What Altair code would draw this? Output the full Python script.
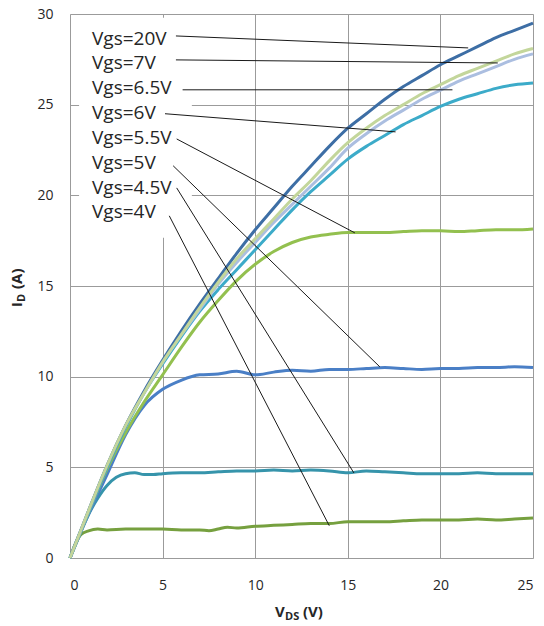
import altair as alt
import pandas as pd

# Drain voltage grid (V) shared by the smooth output curves
vds = [0, 1, 2, 3, 4, 5, 6, 7, 8, 9, 10, 11, 12, 13, 14, 15, 16, 17, 18, 19, 20, 21, 22, 23, 24, 25]

# Drain current (A) for each gate voltage
id_20v = [0, 2.6, 5.1, 7.3, 9.2, 10.9, 12.5, 14.0, 15.4, 16.8, 18.1, 19.3, 20.5, 21.6, 22.7, 23.7,
          24.5, 25.3, 26.0, 26.6, 27.2, 27.7, 28.2, 28.7, 29.1, 29.5]
id_7v = [0, 2.6, 5.1, 7.3, 9.1, 10.8, 12.3, 13.8, 15.2, 16.5, 17.6, 18.7, 19.8, 20.8, 21.9, 22.9,
         23.7, 24.4, 25.0, 25.6, 26.1, 26.6, 27.0, 27.4, 27.8, 28.1]
id_6v5 = [0, 2.6, 5.1, 7.3, 9.1, 10.8, 12.3, 13.7, 15.1, 16.3, 17.4, 18.5, 19.5, 20.5, 21.5, 22.6,
          23.4, 24.1, 24.7, 25.3, 25.8, 26.3, 26.7, 27.1, 27.5, 27.8]
id_6v = [0, 2.5, 5.0, 7.2, 9.1, 10.7, 12.2, 13.6, 14.8, 15.9, 17.0, 18.1, 19.2, 20.2, 21.1, 22.0,
         22.7, 23.3, 23.9, 24.4, 24.9, 25.3, 25.6, 25.9, 26.1, 26.2]
id_5v5 = [0, 2.5, 4.9, 6.9, 8.6, 10.1, 11.6, 13.0, 14.2, 15.3, 16.2, 16.9, 17.4, 17.7, 17.85, 17.95,
          17.95, 17.95, 18.0, 18.05, 18.05, 18.0, 18.05, 18.1, 18.1, 18.15]
id_5v = [0, 2.4, 4.6, 6.8, 8.4, 9.3, 9.8, 10.1, 10.15, 10.3, 10.1, 10.25, 10.35, 10.3, 10.4, 10.4,
         10.45, 10.5, 10.45, 10.4, 10.45, 10.45, 10.5, 10.5, 10.55, 10.5]

# The low-gate curves saturate early, so they use a finer start
vds_4v5 = [0, 0.5, 1, 1.5, 2, 2.5, 3, 3.5, 4, 4.5, 5, 6, 7, 8, 9, 10, 11, 12, 13, 14, 15, 16, 17,
           18, 19, 20, 21, 22, 23, 24, 25]
id_4v5 = [0, 1.3, 2.4, 3.3, 4.0, 4.45, 4.65, 4.7, 4.6, 4.6, 4.65, 4.7, 4.7, 4.75, 4.8, 4.8, 4.85,
          4.8, 4.85, 4.8, 4.7, 4.8, 4.75, 4.7, 4.65, 4.65, 4.65, 4.7, 4.65, 4.65, 4.65]
vds_4v = [0, 0.3, 0.6, 1, 1.5, 2, 3, 4, 5, 6, 7, 7.5, 8, 8.5, 9, 10, 11, 12, 13, 14, 15, 16, 17,
          18, 19, 20, 21, 22, 23, 24, 25]
id_4v = [0, 0.8, 1.3, 1.5, 1.6, 1.55, 1.6, 1.6, 1.6, 1.55, 1.55, 1.5, 1.6, 1.7, 1.65, 1.75, 1.8,
         1.85, 1.9, 1.9, 2.0, 2.0, 2.0, 2.05, 2.1, 2.1, 2.1, 2.15, 2.1, 2.15, 2.2]

# Series names, in drawing order, and their colours
series = ["Vgs=4V", "Vgs=4.5V", "Vgs=5V", "Vgs=5.5V", "Vgs=6V", "Vgs=6.5V", "Vgs=20V", "Vgs=7V"]
colors = ["#76a03f", "#3694ab", "#4a7fc6", "#93c04f", "#3cabc9", "#abbee0", "#3d6ea5", "#c3d69b"]
curves = {
    "Vgs=4V": (vds_4v, id_4v),
    "Vgs=4.5V": (vds_4v5, id_4v5),
    "Vgs=5V": (vds, id_5v),
    "Vgs=5.5V": (vds, id_5v5),
    "Vgs=6V": (vds, id_6v),
    "Vgs=6.5V": (vds, id_6v5),
    "Vgs=20V": (vds, id_20v),
    "Vgs=7V": (vds, id_7v),
}

# Callout labels (top to bottom) with leader line start and end points
label_names = ["Vgs=20V", "Vgs=7V", "Vgs=6.5V", "Vgs=6V", "Vgs=5.5V", "Vgs=5V", "Vgs=4.5V", "Vgs=4V"]
label_x = [1.19] * 8
label_y = [28.63, 27.31, 25.93, 24.55, 23.17, 21.79, 20.41, 19.09]
lead_x0 = [5.72, 5.72, 6.08, 5.13, 5.76, 5.57, 5.76, 5.36]
lead_y0 = [28.79, 27.47, 25.82, 24.50, 23.11, 21.63, 20.41, 18.87]
lead_x1 = [21.5, 23.1, 20.65, 17.58, 15.38, 16.73, 15.33, 14.0]
lead_y1 = [28.13, 27.30, 25.82, 23.50, 17.93, 10.54, 4.69, 1.78]

FONT = "Open Sans"
TXT = "#262626"
GRID = "#9b9b9b"

xs = alt.Scale(domain=[0, 25], nice=False)
ys = alt.Scale(domain=[0, 30], nice=False)
x_axis = alt.Axis(values=[0, 5, 10, 15, 20, 25], title=None, grid=True, ticks=False, domain=False,
                  labelPadding=20, labelFontSize=14, labelFont=FONT, labelColor=TXT,
                  gridColor=GRID, gridWidth=1, gridOpacity=1)
y_axis = alt.Axis(values=[0, 5, 10, 15, 20, 25, 30], title=None, grid=True, ticks=False, domain=False,
                  labelPadding=17, labelFontSize=14, labelFont=FONT, labelColor=TXT,
                  gridColor=GRID, gridWidth=1, gridOpacity=1)

# Base layer carrying the axes and grid
frame_df = pd.DataFrame({"v": [0, 25], "i": [0, 30]})
base = alt.Chart(frame_df).mark_point(opacity=0).encode(
    x=alt.X("v:Q", scale=xs, axis=x_axis),
    y=alt.Y("i:Q", scale=ys, axis=y_axis),
)

# Line layers, one per gate voltage
line_layers = []
for name, col in zip(series, colors):
    v, i = curves[name]
    df = pd.DataFrame({"v": v, "i": i})
    line_layers.append(
        alt.Chart(df).mark_line(color=col, strokeWidth=3, interpolate="monotone").encode(
            x=alt.X("v:Q", scale=xs), y=alt.Y("i:Q", scale=ys)
        )
    )

# White backing behind the callout list
backing = alt.Chart(pd.DataFrame({"a": [0]})).mark_rect(color="white").encode(
    x=alt.datum(0.49, scale=xs), x2=alt.datum(6.58),
    y=alt.datum(17.66, scale=ys), y2=alt.datum(29.8),
)

callouts = pd.DataFrame({
    "name": label_names, "lx": label_x, "ly": label_y,
    "x0": lead_x0, "y0": lead_y0, "x1": lead_x1, "y1": lead_y1,
})
leaders = alt.Chart(callouts).mark_rule(color="#1a1a1a", strokeWidth=1).encode(
    x=alt.X("x0:Q", scale=xs), y=alt.Y("y0:Q", scale=ys), x2="x1:Q", y2="y1:Q"
)
labels = alt.Chart(callouts).mark_text(
    align="left", baseline="middle", font=FONT, fontSize=19, color=TXT
).encode(x=alt.X("lx:Q", scale=xs), y=alt.Y("ly:Q", scale=ys), text="name:N")

# Axis titles with subscripts
def piece(text, x, y, size, angle=0):
    return alt.Chart(pd.DataFrame({"t": [text]})).mark_text(
        align="left", baseline="alphabetic", font=FONT, fontSize=size, fontWeight="bold",
        color=TXT, angle=angle
    ).encode(x=alt.value(x), y=alt.value(y), text="t:N")

x_title = [
    piece("V", 205, 603, 15),
    piece("DS", 215, 606, 11),
    piece("(V)", 233, 603, 15),
]
y_title = [
    piece("I", -48, 293, 15, angle=270),
    piece("D", -45, 288, 11, angle=270),
    piece("(A)", -48, 275, 15, angle=270),
]

chart = alt.layer(
    base, *line_layers, backing, leaders, labels, *x_title, *y_title
).properties(
    width=463, height=544,
    padding={"left": 70, "top": 14, "right": 11, "bottom": 68},
    autosize=alt.AutoSizeParams(type="none"),
).configure_view(
    stroke=GRID, strokeWidth=1
).configure(background="white")

chart.save("out.html", embed_options={"renderer": "svg", "actions": False})
